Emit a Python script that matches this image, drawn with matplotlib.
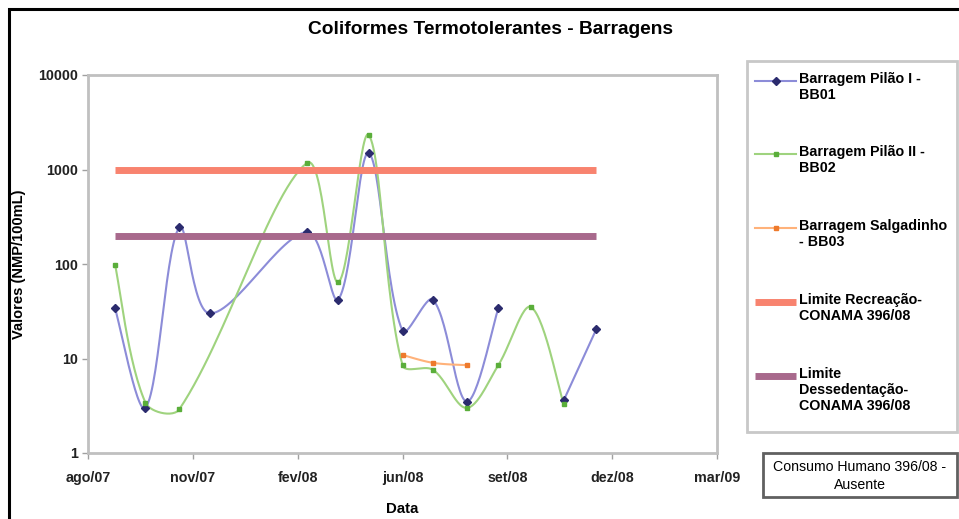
import matplotlib
matplotlib.use("Agg")
import matplotlib.pyplot as plt
import matplotlib.dates as mdates
from matplotlib.patches import Rectangle
from matplotlib.lines import Line2D
import numpy as np
import datetime as dt

plt.rcParams['font.family'] = ['Liberation Sans', 'DejaVu Sans']

# ---- data ----
dates_bb01 = ['2007-09-20', '2007-10-17', '2007-11-16', '2007-12-13', '2008-03-08',
              '2008-04-05', '2008-05-02', '2008-06-01', '2008-06-28', '2008-07-28',
              '2008-08-25', '2008-09-23', '2008-10-22', '2008-11-20']
bb01 = [34, 3.0, 246, 30, 218, 42, 1490, 19.6, 42, 3.5, 34, np.nan, 3.6, 20.5]

dates_bb02 = ['2007-09-20', '2007-10-17', '2007-11-16', '2008-03-08', '2008-04-05',
              '2008-05-02', '2008-06-01', '2008-06-28', '2008-07-28', '2008-08-25',
              '2008-09-23', '2008-10-22']
bb02 = [98, 3.4, 2.9, 1170, 64, 2318, 8.5, 7.6, 3.0, 8.5, 35, 3.3]

dates_bb03 = ['2008-06-01', '2008-06-28', '2008-07-28']
bb03 = [10.9, 9.0, 8.5]

lim_recreacao = 1000
lim_dessedentacao = 200

labels = ['Barragem Pilão I -\nBB01', 'Barragem Pilão II -\nBB02',
          'Barragem Salgadinho\n- BB03', 'Limite Recreação-\nCONAMA 396/08',
          'Limite\nDessedentação-\nCONAMA 396/08']
x_tick_labels = ['ago/07', 'nov/07', 'fev/08', 'jun/08', 'set/08', 'dez/08', 'mar/09']
y_ticks = [1, 10, 100, 1000, 10000]

axis_start = dt.date(2007, 8, 27)
axis_step = 93  # days between major ticks

W, H = 959, 519


def fx(px):
    return px / W


def fy(py):
    return 1 - py / H


def to_num(ds):
    return mdates.date2num([dt.datetime.strptime(d, '%Y-%m-%d') for d in ds])


def smooth(ax, x, y, n=30):
    # Excel-like smoothed line, built in screen space
    pts = ax.transData.transform(np.column_stack([x, y]))
    ok = ~np.isnan(np.asarray(y, float))
    segs, cur = [], []
    for i in range(len(x)):
        if ok[i]:
            cur.append(i)
        elif cur:
            segs.append(cur)
            cur = []
    if cur:
        segs.append(cur)
    t = np.linspace(0, 1, n)[:, None]
    out = []
    for s in segs:
        P = pts[s]
        if len(P) < 2:
            continue
        for i in range(len(P) - 1):
            p0 = P[i - 1] if i > 0 else P[i]
            p1, p2 = P[i], P[i + 1]
            p3 = P[i + 2] if i + 2 < len(P) else P[i + 1]
            d01 = np.hypot(*(p1 - p0))
            d12 = np.hypot(*(p2 - p1))
            d23 = np.hypot(*(p3 - p2))
            f1 = d12 / (d01 + d12) / 3 if d01 > 0 else 1 / 6
            f2 = d12 / (d12 + d23) / 3 if d23 > 0 else 1 / 6
            c1 = p1 + (p2 - p0) * f1
            c2 = p2 - (p3 - p1) * f2
            B = (1 - t) ** 3 * p1 + 3 * (1 - t) ** 2 * t * c1 \
                + 3 * (1 - t) * t ** 2 * c2 + t ** 3 * p2
            out.append(B)
        out.append(np.array([[np.nan, np.nan]]))
    B = np.vstack(out)
    good = ~np.isnan(B[:, 0])
    D = np.full_like(B, np.nan)
    D[good] = ax.transData.inverted().transform(B[good])
    return D[:, 0], D[:, 1]


fig = plt.figure(figsize=(W / 100, H / 100), dpi=100)
ax = fig.add_axes([fx(88), fy(453), (717 - 88) / W, (453 - 75) / H])

ax.set_yscale('log')
ax.set_ylim(1, 10000)
ax.set_yticks(y_ticks)
ax.set_yticklabels([str(v) for v in y_ticks])
ax.minorticks_off()

x0 = mdates.date2num(dt.datetime.combine(axis_start, dt.time()))
xticks = [x0 + k * axis_step for k in range(len(x_tick_labels))]
ax.set_xlim(xticks[0], xticks[-1])
ax.set_xticks(xticks)
ax.set_xticklabels(x_tick_labels)

series = [
    (dates_bb01, bb01, '#8c8cd8', '#2b2b6e', 'D', 3.6),
    (dates_bb02, bb02, '#9fd37e', '#5aae3a', 's', 3.3),
    (dates_bb03, bb03, '#ffb27a', '#ee7a2c', 's', 3.3),
]
styles = []
for ds, vals, lc, mc, mk, ms in series:
    xn = to_num(ds)
    sx, sy = smooth(ax, xn, vals)
    ax.plot(sx, sy, '-', color=lc, lw=1.5, zorder=3)
    ax.plot(xn, vals, mk, color=mc, ms=ms, zorder=4)
    styles.append(dict(color=lc, lw=1.5, marker=mk, mfc=mc, mec=mc, ms=ms))

all_dates = to_num(dates_bb01)
for lim, col in [(lim_recreacao, '#f8836f'), (lim_dessedentacao, '#a8698c')]:
    ax.plot([all_dates[0], all_dates[-1]], [lim] * 2, '-',
            color=col, lw=5, solid_capstyle='butt', zorder=5)
    styles.append(dict(color=col, lw=5, solid_capstyle='butt'))
ax.set_xlim(xticks[0], xticks[-1])
ax.set_ylim(1, 10000)

for sp in ax.spines.values():
    sp.set_color('#c0c0c0')
    sp.set_linewidth(2)
ax.tick_params(axis='both', colors='#a0a0a0', length=4, width=1, labelsize=10.3,
               labelcolor='#222222')
ax.tick_params(axis='x', pad=9)
for lab in ax.get_xticklabels() + ax.get_yticklabels():
    lab.set_fontweight('bold')

ax.set_xlabel('Data', fontsize=10.8, fontweight='bold', labelpad=12)
ax.set_ylabel('Valores (NMP/100mL)', fontsize=10.5, fontweight='bold')
ax.yaxis.set_label_coords(-0.098, 0.5)

fig.text(fx(490), fy(30), 'Coliformes Termotolerantes - Barragens',
         ha='center', va='center', fontsize=13.8, fontweight='bold')

# legend (Excel style: handle level with the first text line)
fig.patches.append(Rectangle((fx(747), fy(432)), (957 - 747) / W, (432 - 61) / H,
                             transform=fig.transFigure, facecolor='white',
                             edgecolor='#c8c8c8', lw=2))
entry_y = [81, 154, 228, 302, 376]
for yy, lab, st in zip(entry_y, labels, styles):
    fig.lines.append(Line2D([fx(755), fx(796)], [fy(yy), fy(yy)],
                            transform=fig.transFigure, markevery=[], **st))
    if 'marker' in st:
        fig.lines.append(Line2D([fx(775.5)], [fy(yy)], transform=fig.transFigure,
                                ls='none', marker=st['marker'], mfc=st['mfc'],
                                mec=st['mec'], ms=st['ms']))
    fig.text(fx(799), fy(yy - 9), lab, ha='left', va='top', fontsize=10.3,
             fontweight='bold', linespacing=1.2)

# "Consumo Humano" box
fig.patches.append(Rectangle((fx(763), fy(497)), 194 / W, 44 / H,
                             transform=fig.transFigure, facecolor='white',
                             edgecolor='#606060', lw=2))
fig.text(fx(860), fy(476), 'Consumo Humano 396/08 -\nAusente',
         ha='center', va='center', fontsize=10.2, linespacing=1.45)

# outer chart border (cropped on right/bottom)
fig.patches.append(Rectangle((fx(9), -0.2), 1.2, 1.2 - 9 / H,
                             transform=fig.transFigure, fill=False,
                             edgecolor='black', lw=2.2, clip_on=False))

fig.savefig('out.png', dpi=100)
